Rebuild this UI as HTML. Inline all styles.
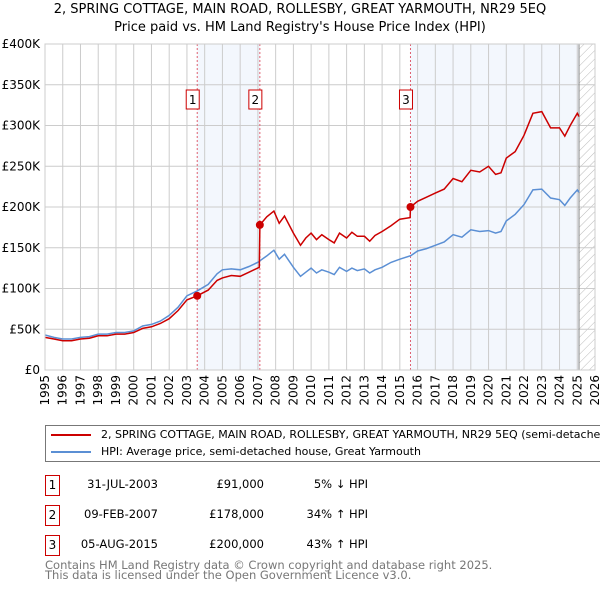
<!DOCTYPE html>
<html><head><meta charset="utf-8"><style>
body{margin:0;width:600px;height:590px;background:#fff;font-family:"DejaVu Sans","Liberation Sans",sans-serif;overflow:hidden;position:relative}
.t{position:absolute;white-space:nowrap}
.box{position:absolute;width:13px;height:19px;border:1px solid #c00;font-size:12px;text-align:center;line-height:19px;background:#fff}
</style></head><body>
<div class="t" style="left:0;width:600px;text-align:center;top:2px;font-size:13px">2, SPRING COTTAGE, MAIN ROAD, ROLLESBY, GREAT YARMOUTH, NR29 5EQ</div>
<div class="t" style="left:0;width:600px;text-align:center;top:20px;font-size:13px">Price paid vs. HM Land Registry's House Price Index (HPI)</div>
<svg id="chart" width="600" height="420" style="position:absolute;left:0;top:0" font-family="DejaVu Sans, Liberation Sans, sans-serif">
<defs><pattern id="hatch" width="6" height="6" patternUnits="userSpaceOnUse" patternTransform="rotate(45)"><line x1="0" y1="0" x2="0" y2="6" stroke="#bbb" stroke-width="1"/></pattern></defs>
</svg>
<div style="position:absolute;left:0;top:0;width:600px;height:590px;overflow:hidden">
<div style="position:absolute;left:45px;top:425px;width:570px;height:35px;border:1px solid #777;overflow:hidden">
<div style="position:absolute;left:5px;top:8px;width:40px;height:2px;background:#c00"></div>
<div class="t" style="left:55px;top:2px;font-size:11px">2, SPRING COTTAGE, MAIN ROAD, ROLLESBY, GREAT YARMOUTH, NR29 5EQ (semi-detached house)</div>
<div style="position:absolute;left:5px;top:25px;width:40px;height:2px;background:#5b8fd4"></div>
<div class="t" style="left:55px;top:19px;font-size:11px">HPI: Average price, semi-detached house, Great Yarmouth</div>
</div>
</div>
<div id="tbl"></div>
<div class="t" style="left:45px;top:560px;font-size:11.5px;color:#777;line-height:10px">Contains HM Land Registry data © Crown copyright and database right 2025.<br>This data is licensed under the Open Government Licence v3.0.</div>
<script>
const years=[1995,1995.5,1996,1996.5,1997,1997.5,1998,1998.5,1999,1999.5,2000,2000.5,2001,2001.5,2002,2002.5,2003,2003.58,2004.2,2004.7,2005,2005.5,2006,2006.5,2007.08,2007.11,2007.5,2007.9,2008.2,2008.5,2009,2009.4,2009.7,2010,2010.3,2010.6,2011,2011.3,2011.6,2012,2012.3,2012.6,2013,2013.3,2013.6,2014,2014.5,2015,2015.58,2015.6,2016,2016.5,2017,2017.5,2018,2018.5,2019,2019.5,2020,2020.4,2020.7,2021,2021.5,2022,2022.5,2023,2023.5,2024,2024.3,2024.6,2025,2025.1];
const hpi=[43,40,38,38,40,41,44,44,46,46,48,54,56,60,67,77,91,97,105,118,123,124,123,127,133,134,140,147,136,142,126,115,120,125,119,123,120,117,126,121,125,122,124,119,123,126,132,136,140,140,146,149,153,157,166,163,172,170,171,168,170,183,191,203,221,222,211,209,202,211,221,218];
const paid=[40,38,36,36,38,39,42,42,44,44,46,51,53,57,63,73,86,91,98,110,113,116,115,120,126,178,188,195,180,189,168,153,162,168,160,166,160,156,168,162,169,164,164,158,165,170,177,185,187,200,207,212,217,222,235,231,245,243,250,240,242,260,268,288,315,317,297,297,287,300,315,311];
const yTicks=[0,50,100,150,200,250,300,350,400];
const yLabels=["£0","£50K","£100K","£150K","£200K","£250K","£300K","£350K","£400K"];
const xTicks=[1995,1996,1997,1998,1999,2000,2001,2002,2003,2004,2005,2006,2007,2008,2009,2010,2011,2012,2013,2014,2015,2016,2017,2018,2019,2020,2021,2022,2023,2024,2025,2026];
const saleDates=[2003.58,2007.11,2015.6];
const salePrices=[91,178,200];
const saleLabels=["1","2","3"];
const tblDates=["31-JUL-2003","09-FEB-2007","05-AUG-2015"];
const tblPrices=["£91,000","£178,000","£200,000"];
const tblHpi=["5% ↓ HPI","34% ↑ HPI","43% ↑ HPI"];
const dataEnd=2025.1;
const X0=45,X1=595,Y0=370,Y1=44;
const xs=t=>X0+(t-1995)/(2026-1995)*(X1-X0);
const ys=v=>Y0-v/400*(Y0-Y1);
const svg=document.getElementById('chart');const NS='http://www.w3.org/2000/svg';
function mk(tag,a,p){const e=document.createElementNS(NS,tag);for(const k in a)e.setAttribute(k,a[k]);(p||svg).appendChild(e);return e;}
let e;
e=mk('rect',{x:xs(saleDates[0]),y:Y1,width:xs(saleDates[1])-xs(saleDates[0]),height:Y0-Y1,fill:'#eef3fc',opacity:0.7});


e=mk('rect',{x:xs(saleDates[2]),y:Y1,width:xs(dataEnd)-xs(saleDates[2]),height:Y0-Y1,fill:'#eef3fc',opacity:0.7});


e=mk('rect',{x:xs(dataEnd),y:Y1,width:X1-xs(dataEnd),height:Y0-Y1,fill:'url(#hatch)'});


yTicks.forEach((v,i)=>{
 e=mk('line',{x1:X0,x2:X1,y1:ys(v),y2:ys(v),stroke:'#ccc'});
 
 
 e=mk('text',{x:X0-5,y:ys(v)+4,'text-anchor':'end','font-size':12});e.textContent=yLabels[i];
 
 
});
xTicks.forEach(t=>{
 e=mk('line',{x1:xs(t),x2:xs(t),y1:Y1,y2:Y0,stroke:'#ccc'});
 
 
 e=mk('text',{x:0,y:0,'text-anchor':'end','font-size':12,transform:`translate(${xs(t)+4},${Y0+5}) rotate(-90)`});e.textContent=t;
 
 
});
e=mk('line',{x1:xs(dataEnd),x2:xs(dataEnd),y1:Y1,y2:Y0,stroke:'#888'});


saleDates.forEach((t,i)=>{
 e=mk('line',{x1:xs(t),x2:xs(t),y1:Y1,y2:Y0,stroke:'#e06070','stroke-dasharray':'2,2'});
 
 
});
const pts=arr=>arr.map((v,i)=>xs(years[i]).toFixed(1)+','+ys(v).toFixed(1)).join(' ');
e=mk('polyline',{points:pts(hpi),fill:'none',stroke:'#5b8fd4','stroke-width':1.5});


e=mk('polyline',{points:pts(paid),fill:'none',stroke:'#c00','stroke-width':1.5});


saleDates.forEach((t,i)=>{
 e=mk('circle',{cx:xs(t),cy:ys(salePrices[i]),r:4,fill:'#c00'});
 
 
 const g=mk('g',{});
 
 
 mk('rect',{x:xs(t)-11,y:90,width:13,height:19,fill:'#fff',stroke:'#c00'},g);
 const tx=mk('text',{x:xs(t)-4.5,y:104,'text-anchor':'middle','font-size':12},g);tx.textContent=saleLabels[i];
});
e=mk('rect',{x:X0,y:Y1,width:X1-X0,height:Y0-Y1,fill:'none',stroke:'#ccc'});


const tbl=document.getElementById('tbl');
saleLabels.forEach((l,i)=>{
 const top=475+i*30;
 const b=document.createElement('div');b.className='box';b.style.left='45px';b.style.top=top+'px';b.textContent=l;
 
 
 tbl.appendChild(b);
 [[tblDates[i],158,'table-date'],[tblPrices[i],264,'table-price'],[tblHpi[i],368,'table-hpi-diff']].forEach(c=>{
  const d=document.createElement('div');d.className='t';d.style.right=(600-c[1])+'px';d.style.top=(top+2)+'px';d.style.fontSize='11.5px';d.textContent=c[0];
  
  
  tbl.appendChild(d);
 });
});
</script>
</body></html>
